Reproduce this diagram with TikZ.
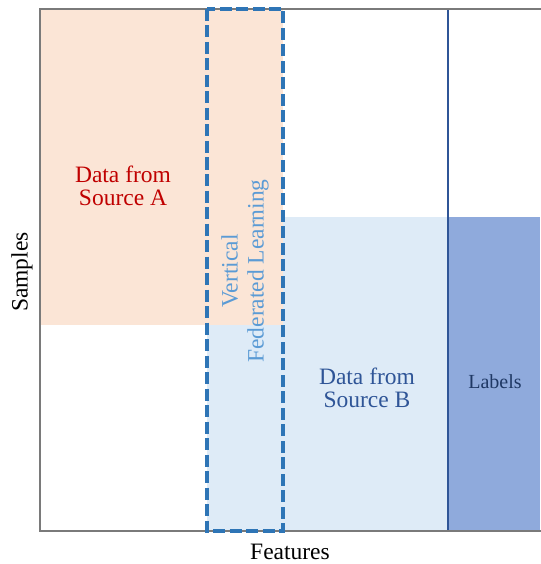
\documentclass[tikz,border=0pt]{standalone}
\usepackage{fontspec}
\setmainfont{Liberation Serif}
\definecolor{srcAfill}{HTML}{FBE5D6}
\definecolor{srcBfill}{HTML}{DEEBF7}
\definecolor{labfill}{HTML}{8FAADC}
\definecolor{navy}{HTML}{2F5597}
\definecolor{darknavy}{HTML}{1F3864}
\definecolor{darkred}{HTML}{C00000}
\definecolor{vflblue}{HTML}{2E75B6}
\definecolor{vfltext}{HTML}{5B9BD5}
\tikzset{
  frame/.style={draw=black!52, line width=2.5pt},
  vflbox/.style={draw=vflblue, line width=3.4pt, dash pattern=on 12pt off 4.5pt},
  bigtext/.style={font=\fontsize{23.5}{23}\selectfont, align=center},
  axistext/.style={font=\fontsize{23.5}{24}\selectfont},
}
\begin{document}
\begin{tikzpicture}[x=1pt, y=-1pt]
    \useasboundingbox (0,0) rectangle (540,564);
    % blocks of data
    \fill[srcBfill] (207,217) rectangle (448,531);
    \fill[srcAfill] (40,9) rectangle (283,325);
    \fill[labfill] (448,217) rectangle (540,531);
    \draw[navy, line width=2pt] (448,9) -- (448,531);
    \draw[frame] (541,9) -- (40,9) -- (40,531) -- (541,531);
    \draw[vflbox] (207,9) rectangle (283,531);
    % texts
    \node[bigtext, text=darkred] (srcA) at (123,186) {Data from\\Source A};
    \node[bigtext, text=navy] (srcB) at (367,388) {Data from\\Source B};
    \node[font=\fontsize{20}{20}\selectfont, text=darknavy] (labels) at (495,382) {Labels};
    \node[bigtext, font=\fontsize{23.5}{26}\selectfont, text=vfltext, rotate=90] (vfl) at (245,271) {Vertical\\Federated Learning};
    \node[axistext, rotate=90] (samples) at (22,272) {Samples};
    \node[axistext] (features) at (290,552) {Features};
\end{tikzpicture}
\end{document}
